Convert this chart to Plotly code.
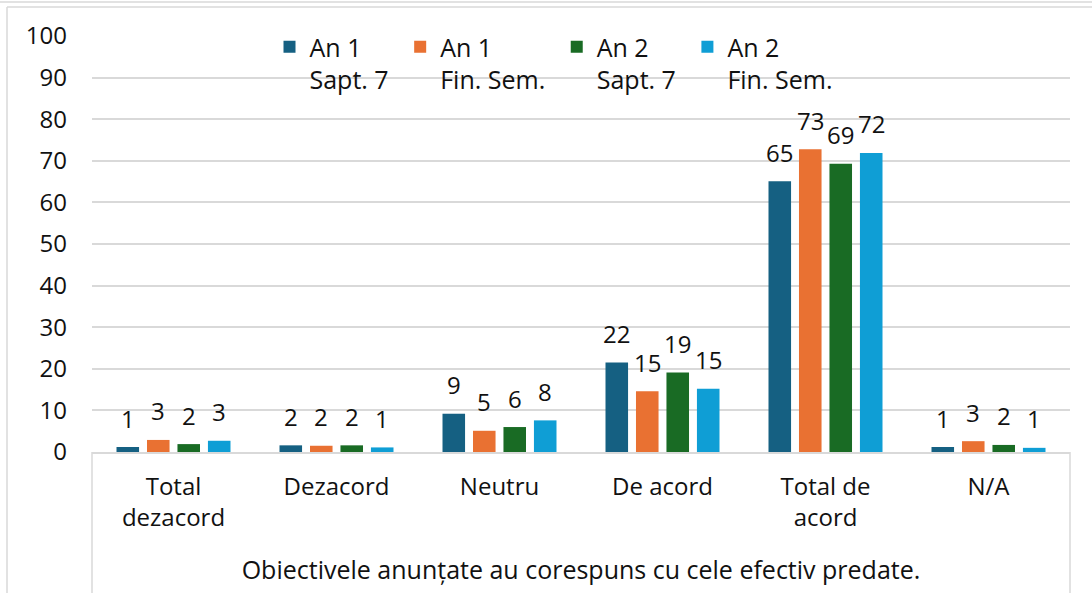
import plotly.graph_objects as go

categories = ["Total<br>dezacord", "Dezacord", "Neutru", "De acord", "Total de<br>acord", "N/A"]
series_names = ["An 1<br>Sapt. 7\u00a0", "An 1<br>Fin. Sem.\u00a0", "An 2<br>Sapt. 7\u00a0", "An 2<br>Fin. Sem.\u00a0"]
an1_sapt7 = [1.2, 1.6, 9.2, 21.5, 65.1, 1.2]
an1_finsem = [2.9, 1.5, 5.1, 14.6, 72.8, 2.6]
an2_sapt7 = [1.9, 1.6, 6.0, 19.1, 69.3, 1.7]
an2_finsem = [2.7, 1.1, 7.6, 15.2, 71.9, 1.0]
y_ticks = [0, 10, 20, 30, 40, 50, 60, 70, 80, 90, 100]
axis_title = "Obiectivele anunțate au corespuns cu cele efectiv predate."

series = [an1_sapt7, an1_finsem, an2_sapt7, an2_finsem]
colors = ["#156082", "#E97132", "#196B24", "#0F9ED5"]

FONT = "Open Sans, Liberation Sans, Arial, sans-serif"
FS = 24
TXT = "#111111"
W, H = 1092, 593
L, R, T, B = 92, 22, 36, 141
PW, PH = W - L - R, H - T - B

def px_x(px):
    return (px - L) / PW

def px_y(py):
    return (H - B - py) / PH

fig = go.Figure()
for name, vals, col in zip(series_names, series, colors):
    fig.add_trace(go.Bar(x=categories, y=vals, name=name,
                         marker=dict(color=col, line=dict(width=0))))

pitch = 30.5
annotations = []
for i, vals in enumerate(series):
    for c, v in zip(categories, vals):
        annotations.append(dict(x=c, y=v, xref="x", yref="y", text=str(int(v + 0.5)),
                                showarrow=False, xanchor="center", yanchor="middle",
                                xshift=(i - 1.5) * pitch, yshift=29,
                                font=dict(family=FONT, size=FS, color=TXT)))

gray = "#d9d9d9"
shapes = [
    dict(type="line", xref="paper", yref="paper", x0=0, x1=0, y0=0, y1=px_y(600), line=dict(color=gray, width=1.5)),
    dict(type="line", xref="paper", yref="paper", x0=1, x1=1, y0=0, y1=px_y(600), line=dict(color=gray, width=1.5)),
    dict(type="line", xref="paper", yref="paper", x0=px_x(7), x1=px_x(7), y0=px_y(7), y1=px_y(600), line=dict(color=gray, width=1.5)),
    dict(type="line", xref="paper", yref="paper", x0=px_x(7), x1=px_x(1100), y0=px_y(7), y1=px_y(7), line=dict(color=gray, width=1.5)),
    dict(type="line", xref="paper", yref="paper", x0=px_x(0), x1=px_x(1100), y0=px_y(2), y1=px_y(2), line=dict(color=gray, width=1.5)),
]

fig.update_layout(
    width=W, height=H,
    margin=dict(l=L, r=R, t=T, b=B, autoexpand=False),
    paper_bgcolor="white", plot_bgcolor="white",
    barmode="group", bargap=0.252, bargroupgap=0.26,
    font=dict(family=FONT, size=FS, color=TXT),
    legend=dict(orientation="h", x=px_x(269.5), y=px_y(24), xanchor="left", yanchor="top",
                valign="top", bgcolor="rgba(0,0,0,0)", font=dict(family=FONT, size=25, color=TXT),
                itemclick=False),
    annotations=annotations,
    shapes=shapes,
    xaxis=dict(showgrid=False, showline=True, linecolor=gray, linewidth=1.5,
               ticks="", ticklabelstandoff=12, tickfont=dict(family=FONT, size=FS, color=TXT),
               title=dict(text=axis_title, standoff=30, font=dict(family=FONT, size=25, color=TXT)),
               automargin=False, fixedrange=True),
    yaxis=dict(range=[0, 100], tickvals=y_ticks, showgrid=True, gridcolor=gray, gridwidth=1.5,
               zeroline=False, showline=False, ticks="", ticklabelstandoff=24,
               tickfont=dict(family=FONT, size=FS, color=TXT), automargin=False, fixedrange=True),
)

fig.write_html("out.html", config={"displayModeBar": False},
               post_script="document.body.style.margin='0px';")
